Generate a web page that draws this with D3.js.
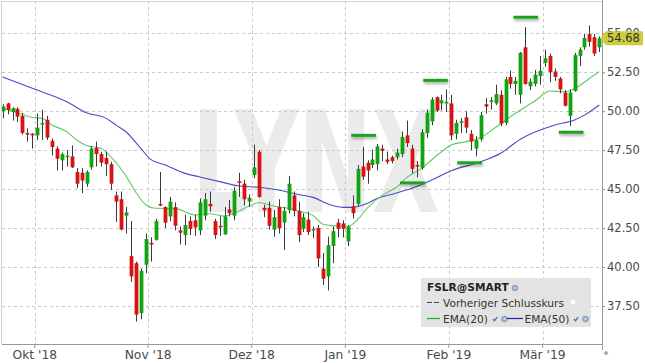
<!DOCTYPE html>
<html>
<head>
<meta charset="utf-8">
<script src="https://cdn.jsdelivr.net/npm/d3@7/dist/d3.min.js"></script>
<style>
  html, body { margin: 0; padding: 0; background: #fff; }
  svg { display: block; font-family: 'DejaVu Sans', Verdana, sans-serif; }
</style>
</head>
<body>
<div id="chart"></div>
<script>
// trading days shown on the chart (FSLR, daily)
const dates = [
  '2018-09-21', '2018-09-24', '2018-09-25', '2018-09-26', '2018-09-27', '2018-09-28',
  '2018-10-01', '2018-10-02', '2018-10-03', '2018-10-04', '2018-10-05', '2018-10-08', '2018-10-09', '2018-10-10',
  '2018-10-11', '2018-10-12', '2018-10-15', '2018-10-16', '2018-10-17', '2018-10-18', '2018-10-19', '2018-10-22',
  '2018-10-23', '2018-10-24', '2018-10-25', '2018-10-26', '2018-10-29', '2018-10-30', '2018-10-31',
  '2018-11-01', '2018-11-02', '2018-11-05', '2018-11-06', '2018-11-07', '2018-11-08', '2018-11-09', '2018-11-12',
  '2018-11-13', '2018-11-14', '2018-11-15', '2018-11-16', '2018-11-19', '2018-11-20', '2018-11-21', '2018-11-23',
  '2018-11-26', '2018-11-27', '2018-11-28', '2018-11-29', '2018-11-30',
  '2018-12-03', '2018-12-04', '2018-12-06', '2018-12-07', '2018-12-10', '2018-12-11', '2018-12-12', '2018-12-13',
  '2018-12-14', '2018-12-17', '2018-12-18', '2018-12-19', '2018-12-20', '2018-12-21', '2018-12-24', '2018-12-26',
  '2018-12-27', '2018-12-28', '2018-12-31',
  '2019-01-02', '2019-01-03', '2019-01-04', '2019-01-07', '2019-01-08', '2019-01-09', '2019-01-10', '2019-01-11',
  '2019-01-14', '2019-01-15', '2019-01-16', '2019-01-17', '2019-01-18', '2019-01-22', '2019-01-23', '2019-01-24',
  '2019-01-25', '2019-01-28', '2019-01-29', '2019-01-30', '2019-01-31',
  '2019-02-01', '2019-02-04', '2019-02-05', '2019-02-06', '2019-02-07', '2019-02-08', '2019-02-11', '2019-02-12',
  '2019-02-13', '2019-02-14', '2019-02-15', '2019-02-19', '2019-02-20', '2019-02-21', '2019-02-22', '2019-02-25',
  '2019-02-26', '2019-02-27', '2019-02-28',
  '2019-03-01', '2019-03-04', '2019-03-05', '2019-03-06', '2019-03-07', '2019-03-08', '2019-03-11', '2019-03-12',
  '2019-03-13', '2019-03-14', '2019-03-15', '2019-03-18', '2019-03-19'
];

const opens = [
  50.0, 50.5, 49.95, 50.15, 49.7, 48.6, 48.55, 48.45, 49.2, 49.45,
  48.1, 47.6, 46.85, 47.1, 47.1, 46.1, 46.05, 45.35, 46.4, 47.65,
  47.25, 47.0, 46.6, 44.6, 44.35, 43.3, 40.7, 40.25, 37.05, 40.15,
  41.55, 41.75, 44.05, 43.85, 43.25, 43.85, 42.35, 42.05, 42.95, 43.0,
  42.35, 43.3, 44.05, 42.95, 42.65, 42.1, 43.7, 43.3, 45.5, 45.35,
  44.2, 45.9, 47.4, 43.8, 43.8, 42.4, 43.85, 42.85, 43.65, 44.6,
  43.6, 42.45, 43.05, 42.35, 42.5, 39.9, 39.4, 41.35, 42.85, 42.8,
  41.65, 43.9, 44.05, 46.45, 46.7, 46.55, 46.6, 47.6, 46.9, 47.05,
  47.05, 47.25, 48.45, 47.6, 46.55, 46.35, 48.6, 49.35, 50.9, 50.5,
  50.55, 50.5, 48.55, 49.25, 49.6, 48.55, 47.6, 48.2, 50.45, 50.6,
  50.5, 51.05, 49.25, 52.2, 51.75, 51.05, 54.1, 51.6, 51.75, 52.25,
  53.1, 53.55, 52.55, 52.1, 51.2, 49.7, 51.3, 53.55, 54.1, 54.95,
  54.75, 54.1
];
const highs = [
  50.45, 50.55, 50.25, 50.25, 49.9, 48.9, 48.6, 49.85, 50.1, 49.7,
  48.25, 47.75, 47.35, 47.5, 47.8, 46.35, 46.35, 46.2, 47.75, 48.05,
  47.4, 47.4, 46.75, 44.85, 44.85, 43.85, 42.95, 40.35, 39.9, 42.15,
  41.9, 43.1, 46.1, 43.9, 44.5, 44.15, 42.6, 43.35, 43.25, 43.35,
  44.4, 44.75, 44.85, 43.1, 43.25, 43.85, 44.3, 45.15, 46.05, 45.6,
  44.65, 47.85, 47.5, 44.0, 44.2, 43.65, 44.35, 43.85, 45.85, 44.85,
  44.2, 43.45, 43.55, 42.6, 42.7, 40.9, 41.95, 42.6, 43.1, 43.0,
  42.7, 44.6, 46.55, 47.7, 46.85, 47.55, 47.9, 47.85, 47.4, 47.15,
  47.6, 48.7, 49.4, 47.85, 46.8, 48.85, 50.1, 50.9, 50.95, 51.05,
  51.4, 51.05, 49.45, 49.55, 50.0, 48.8, 48.4, 49.95, 50.85, 50.9,
  51.7, 51.35, 52.2, 52.6, 52.2, 53.8, 55.4, 52.1, 52.65, 53.55,
  53.95, 53.7, 52.75, 52.2, 51.35, 51.4, 53.75, 54.1, 54.95, 55.5,
  54.95, 54.8
];
const lows = [
  49.55, 49.8, 49.4, 49.3, 48.5, 48.05, 47.6, 48.15, 48.15, 48.15,
  47.15, 46.2, 46.2, 46.45, 46.35, 45.05, 44.75, 45.15, 46.25, 46.45,
  46.45, 45.85, 44.95, 42.9, 42.35, 42.15, 39.05, 36.5, 36.65, 39.6,
  40.35, 41.7, 43.9, 42.5, 42.95, 42.35, 41.45, 41.4, 42.05, 42.0,
  42.05, 43.0, 43.55, 41.8, 42.0, 42.05, 43.25, 43.0, 44.5, 43.95,
  43.85, 45.7, 44.45, 43.2, 42.4, 41.95, 42.15, 41.1, 43.45, 43.25,
  41.6, 42.25, 42.05, 41.85, 40.0, 38.85, 38.5, 40.25, 41.9, 41.9,
  41.35, 43.1, 43.9, 45.6, 45.35, 46.35, 46.2, 46.8, 46.6, 46.65,
  46.9, 47.05, 47.7, 46.0, 45.75, 46.25, 48.3, 49.1, 49.95, 50.05,
  49.95, 48.15, 48.2, 48.6, 48.6, 47.5, 47.1, 48.05, 49.85, 50.1,
  50.4, 49.05, 49.1, 51.45, 51.05, 50.5, 51.7, 51.35, 51.6, 51.7,
  52.85, 51.85, 51.95, 51.15, 50.3, 49.05, 51.25, 52.9, 53.95, 54.15,
  53.55, 53.8
];
const closes = [
  50.3, 50.08, 50.2, 49.65, 48.6, 48.5, 48.45, 48.95, 49.25, 48.3,
  47.7, 46.95, 47.25, 47.15, 46.4, 45.35, 45.55, 46.1, 47.6, 47.25,
  46.7, 46.6, 45.35, 44.2, 42.4, 43.5, 39.4, 36.95, 39.75, 41.8,
  41.45, 42.95, 43.95, 42.85, 44.2, 42.65, 42.2, 42.7, 42.45, 42.55,
  44.15, 44.35, 43.9, 42.05, 42.6, 43.25, 43.45, 44.9, 45.4, 44.35,
  44.45, 46.4, 44.5, 43.65, 42.65, 43.2, 42.5, 43.6, 45.35, 43.6,
  42.05, 43.2, 42.25, 42.45, 40.55, 39.25, 41.4, 42.3, 42.45, 42.45,
  42.6, 43.45, 46.3, 45.8, 46.2, 46.9, 47.75, 47.45, 46.75, 46.8,
  47.35, 48.35, 47.95, 46.3, 46.45, 48.65, 49.9, 50.75, 50.05, 50.7,
  50.6, 48.45, 49.25, 49.35, 48.95, 48.05, 48.15, 49.75, 50.3, 50.7,
  51.1, 49.2, 52.05, 51.75, 51.95, 53.75, 51.75, 51.9, 52.35, 52.6,
  53.4, 52.5, 52.2, 51.4, 50.35, 51.2, 53.6, 53.95, 54.7, 54.45,
  53.7, 54.68
];

// indicator lines: day index -> value
const ema20At = [0, 3, 6, 8, 10, 13, 15, 17, 20, 22, 25, 27, 29, 31, 35, 39, 42, 45, 47, 50, 52, 55, 58, 60, 63, 65, 68, 70,
  72, 74, 77, 80, 82, 85, 89, 91, 94, 97, 100, 104, 108, 111, 114, 116, 119, 121];
const ema20 = [50.19, 49.9, 49.6, 49.54, 49.12, 48.68, 48.15, 47.8, 47.6, 47.05, 45.85, 44.8, 44.0, 43.77, 43.75, 43.35, 43.42,
  43.27, 43.45, 43.92, 44.13, 43.92, 43.77, 43.6, 43.3, 42.75, 42.63, 42.6, 43.05, 43.8, 44.6, 45.15, 45.75, 46.35, 47.4,
  47.83, 48.05, 48.32, 48.97, 49.87, 50.67, 51.3, 51.25, 51.45, 52.1, 52.54];
const ema50At = [0, 6, 13, 17, 21, 23, 25, 28, 30, 33, 37, 40, 44, 48, 52, 56, 60, 63, 66, 69, 71, 74, 76, 79, 83, 87, 91, 97,
  101, 105, 112, 116, 118, 121];
const ema50 = [52.2, 51.47, 50.61, 49.9, 49.54, 49.11, 48.68, 47.62, 46.91, 46.55, 46.01, 45.78, 45.48, 45.2, 45.12, 44.94,
  44.65, 44.47, 44.04, 43.83, 43.83, 44.09, 44.41, 44.67, 45.05, 45.58, 46.18, 46.76, 47.3, 48.2, 49.11, 49.44, 49.75, 50.4];

// green high/low markers: centre day index and price
const markerAt = [73.2, 83.1, 87.8, 94.7, 106.1, 115.3];
const markerPrice = [48.45, 45.4, 51.98, 46.69, 56.03, 48.65];

const yTicks = [37.5, 40, 42.5, 45, 47.5, 50, 52.5, 55];
const monthStarts = ['2018-10-01', '2018-11-01', '2018-12-03', '2019-01-02', '2019-02-01', '2019-03-01'];
const monthLabels = ["Okt '18", "Nov '18", "Dez '18", "Jan '19", "Feb '19", "Mär '19"];
const lastPrice = 54.68;

function createViz(elem, width, height) {
  var plot = { left: 2, right: 602, top: 1, bottom: 344 };
  var upColor = '#12a312',
    downColor = '#d81313',
    wickColor = '#3a3a3a',
    gridColor = '#c9c9c9',
    textColor = '#4a4a4a';

  var svg = d3.select(elem).append('svg').attr('width', width).attr('height', height);

  // drop shadow used by the green markers
  var defs = svg.append('defs');
  defs.append('filter').attr('id', 'shadow').attr('x', '-20%').attr('y', '-200%').attr('width', '140%').attr('height', '600%')
    .append('feDropShadow').attr('dx', 1).attr('dy', 2).attr('stdDeviation', 1.4)
    .attr('flood-color', '#000').attr('flood-opacity', 0.35);
  defs.append('clipPath').attr('id', 'plotclip').append('rect')
    .attr('x', plot.left).attr('y', plot.top).attr('width', plot.right - plot.left).attr('height', plot.bottom - plot.top);

  // scales: one band per trading day, price on the right
  var x = d3.scaleBand().domain(dates).range([0.24, 601.7]).padding(0);
  var bw = x.bandwidth();
  var cx = (d) => x(d) + bw / 2;
  var y = d3.scaleLinear().domain([37.5, 55]).range([306, 33.3]);

  // watermark
  svg.append('text')
    .attr('x', 192).attr('y', 212)
    .attr('font-size', 140).attr('font-weight', 'bold')
    .attr('textLength', 248).attr('lengthAdjust', 'spacingAndGlyphs')
    .attr('fill', '#ebebeb')
    .text('LYNX');

  // grid ------------------------------------------------------
  var grid = svg.append('g').attr('stroke', gridColor).attr('stroke-dasharray', '3,3');
  grid.selectAll('line.h').data(yTicks).enter().append('line')
    .attr('x1', plot.left).attr('x2', plot.right)
    .attr('y1', (d) => Math.round(y(d)) + 0.5).attr('y2', (d) => Math.round(y(d)) + 0.5);
  grid.selectAll('line.v').data(monthStarts).enter().append('line')
    .attr('x1', (d) => Math.round(x(d) + bw) + 0.5).attr('x2', (d) => Math.round(x(d) + bw) + 0.5)
    .attr('y1', plot.top).attr('y2', plot.bottom);

  // frame
  svg.append('line').attr('x1', 1.5).attr('x2', 1.5).attr('y1', 1).attr('y2', plot.bottom).attr('stroke', '#cfcfcf');
  svg.append('line').attr('x1', 1).attr('x2', plot.right).attr('y1', 1.5).attr('y2', 1.5).attr('stroke', '#d5d5d5');

  var inner = svg.append('g').attr('clip-path', 'url(#plotclip)');

  // EMA lines
  var emaLine = (at, vals) => d3.line()
    .x((d, i) => cx(dates[at[i]]) + (at[i] % 1) * bw)
    .y((d) => y(d))
    .curve(d3.curveMonotoneX)(vals);
  inner.append('path').attr('d', emaLine(ema50At, ema50)).attr('fill', 'none').attr('stroke', '#4b4bc6').attr('stroke-width', 1.1);
  inner.append('path').attr('d', emaLine(ema20At, ema20)).attr('fill', 'none').attr('stroke', '#62c862').attr('stroke-width', 1.1);

  // candles
  var idx = d3.range(dates.length);
  var candles = inner.append('g').selectAll('g').data(idx).enter().append('g');
  candles.append('line')
    .attr('x1', (i) => Math.round(cx(dates[i])) + 0.5)
    .attr('x2', (i) => Math.round(cx(dates[i])) + 0.5)
    .attr('y1', (i) => y(highs[i]))
    .attr('y2', (i) => y(lows[i]))
    .attr('stroke', wickColor);
  candles.append('rect')
    .attr('x', (i) => Math.round(cx(dates[i])) + 0.5 - 1.9)
    .attr('width', 3.8)
    .attr('y', (i) => y(Math.max(opens[i], closes[i])))
    .attr('height', (i) => Math.max(1.6, Math.abs(y(opens[i]) - y(closes[i]))))
    .attr('fill', (i) => (closes[i] >= opens[i] ? upColor : downColor));

  // green markers, five days wide
  svg.append('g').attr('filter', 'url(#shadow)').selectAll('line').data(markerAt).enter().append('line')
    .attr('x1', (d) => cx(dates[0]) + (d - 2.5) * bw)
    .attr('x2', (d) => cx(dates[0]) + (d + 2.5) * bw)
    .attr('y1', (d, i) => y(markerPrice[i]))
    .attr('y2', (d, i) => y(markerPrice[i]))
    .attr('stroke', '#1aa31a').attr('stroke-width', 3);

  // axes ------------------------------------------------------
  var yAxis = svg.append('g').attr('transform', 'translate(' + plot.right + ',0)')
    .call(d3.axisRight(y).tickValues(yTicks).tickFormat(d3.format('.2f')).tickSize(3).tickPadding(2));
  yAxis.select('.domain').remove();
  yAxis.selectAll('line').attr('stroke', '#888');
  yAxis.selectAll('text').attr('font-size', 11.5).attr('font-family', 'DejaVu Sans').attr('fill', textColor);

  var xAxis = svg.append('g').attr('transform', 'translate(' + bw / 2 + ',' + plot.bottom + ')')
    .call(d3.axisBottom(x).tickValues(monthStarts).tickFormat((d, i) => monthLabels[i]).tickSize(4).tickPadding(2));
  xAxis.select('.domain').remove();
  xAxis.selectAll('line').attr('stroke', '#999');
  xAxis.selectAll('text').attr('font-size', 12.3).attr('font-family', 'DejaVu Sans').attr('fill', textColor);

  svg.append('line').attr('x1', plot.left).attr('x2', plot.right + 0.5).attr('y1', plot.bottom + 0.5).attr('y2', plot.bottom + 0.5).attr('stroke', '#999');
  svg.append('line').attr('x1', plot.right + 0.5).attr('x2', plot.right + 0.5).attr('y1', 0).attr('y2', 350).attr('stroke', '#999');
  svg.append('path').attr('d', 'M606,350.5 l2.5,2.5 l-2.5,2.5 l-2.5,-2.5 z').attr('fill', '#aaa');

  // last price tag
  var ly = y(lastPrice);
  svg.append('path')
    .attr('d', 'M600,' + ly + ' L606,' + (ly - 7) + ' L643,' + (ly - 7) + ' L643,' + (ly + 7) + ' L606,' + (ly + 7) + ' Z')
    .attr('fill', '#cccc3c');
  svg.append('text').attr('x', 607).attr('y', ly + 4.2)
    .attr('font-size', 11.5).attr('fill', '#333').text(d3.format('.2f')(lastPrice));

  // legend ----------------------------------------------------
  var lg = svg.append('g').attr('transform', 'translate(421,278)').attr('font-size', 10.6).attr('fill', '#333');
  lg.append('rect').attr('width', 170).attr('height', 49).attr('fill', '#e3e3e3');
  lg.append('text').attr('x', 6).attr('y', 13).attr('font-weight', 'bold').attr('fill', '#222').text('FSLR@SMART');

  var gear = (gx, gy) => {
    lg.append('circle').attr('cx', gx).attr('cy', gy).attr('r', 3).attr('fill', '#9aaecb').attr('stroke', '#7d93b6').attr('stroke-width', 0.6);
    lg.append('circle').attr('cx', gx).attr('cy', gy).attr('r', 1).attr('fill', '#dfe6f0');
  };
  var check = (gx, gy) => {
    lg.append('path').attr('d', 'M' + (gx - 2) + ',' + gy + ' l1.5,1.7 l2.8,-3.6').attr('fill', 'none')
      .attr('stroke', '#2f6fd0').attr('stroke-width', 1.2);
  };
  gear(94, 10);

  lg.append('line').attr('x1', 6).attr('x2', 19).attr('y1', 24.5).attr('y2', 24.5)
    .attr('stroke', '#444').attr('stroke-dasharray', '5,2');
  lg.append('text').attr('x', 22).attr('y', 28.5).text('Vorheriger Schlusskurs');
  lg.append('rect').attr('x', 150).attr('y', 22).attr('width', 4).attr('height', 4).attr('fill', '#fff');

  lg.append('line').attr('x1', 6).attr('x2', 19).attr('y1', 40.5).attr('y2', 40.5).attr('stroke', '#22a822').attr('stroke-width', 1.2);
  lg.append('text').attr('x', 22).attr('y', 44.5).text('EMA(20)');
  check(74, 41);
  gear(83.5, 41);
  lg.append('line').attr('x1', 86).attr('x2', 102).attr('y1', 40.5).attr('y2', 40.5).attr('stroke', '#2222a8').attr('stroke-width', 1.2);
  lg.append('text').attr('x', 103.5).attr('y', 44.5).text('EMA(50)');
  check(155, 41);
  gear(164.5, 41);
}

createViz(document.getElementById('chart'), 645, 363);
</script>
</body>
</html>
